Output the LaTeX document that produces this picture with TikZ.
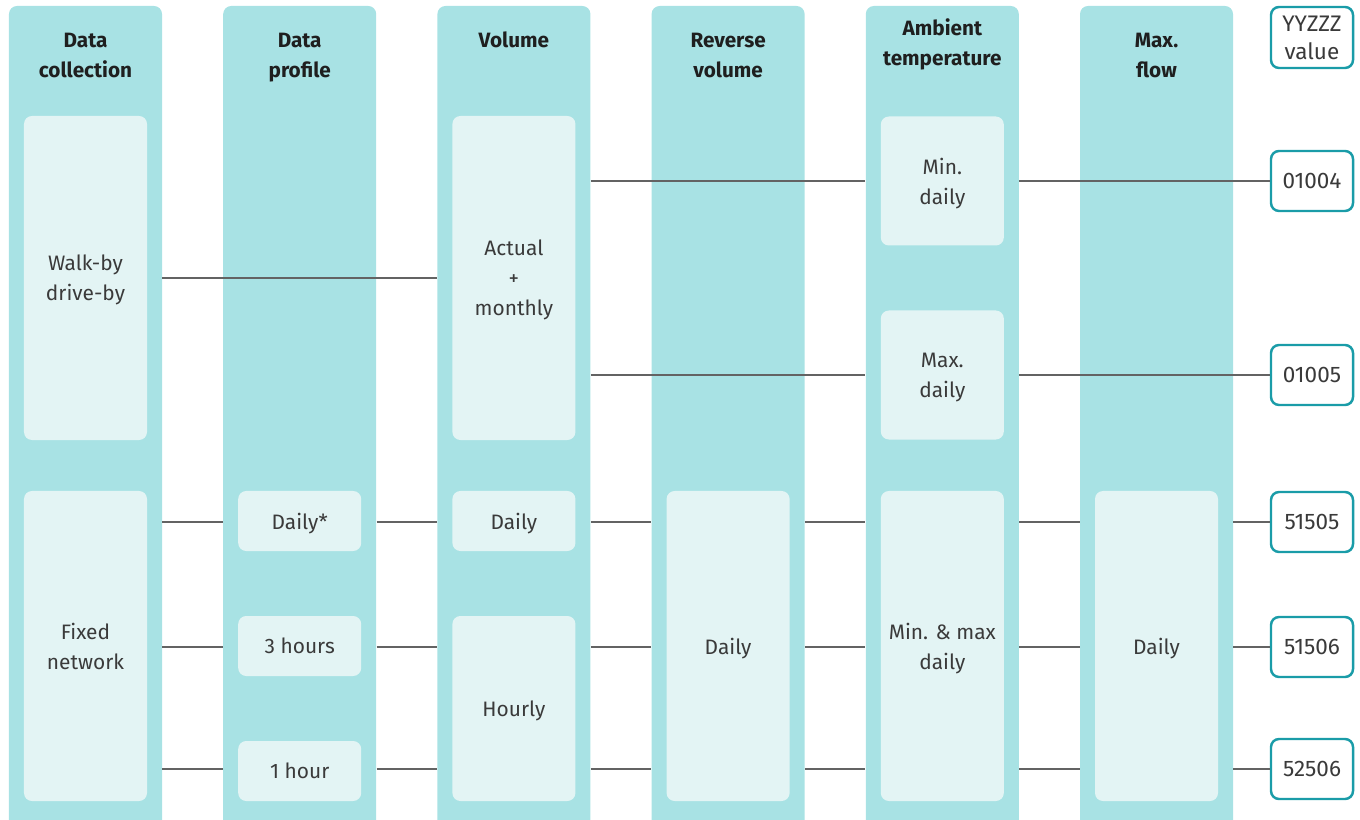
\documentclass[tikz,border=0pt]{standalone}
\usepackage{fontspec}
\setmainfont{Fira Sans}

\definecolor{colfill}{HTML}{A8E2E4}
\definecolor{cellfill}{HTML}{E3F4F4}
\definecolor{codeline}{HTML}{1A9CA8}
\definecolor{linkgray}{HTML}{636363}
\definecolor{txt}{HTML}{3A3A3A}

\tikzset{
  column/.style={fill=colfill, rounded corners=1.6mm, minimum width=3.06cm, minimum height=16.88cm, inner sep=0},
  cell/.style={fill=cellfill, rounded corners=1.6mm, minimum width=2.46cm, inner sep=0, text depth=0pt, align=center, text=txt, font=\fontsize{11.9}{17}\selectfont},
  head/.style={align=center, text depth=0pt, text=black!88, font=\fontsize{11.8}{17}\selectfont\bfseries},
  code/.style={draw=codeline, line width=1.4pt, fill=white, rounded corners=1.6mm, minimum width=1.64cm, minimum height=1.2cm, inner sep=0, text depth=0pt, align=center, text=txt, font=\fontsize{12.8}{16}\selectfont},
  link/.style={draw=linkgray, line width=1.15pt}
}

\begin{document}
\begin{tikzpicture}[x=0.2mm, y=-0.2mm]
\useasboundingbox (0,0) rectangle (1360,820);
\clip (0,0) rectangle (1360,820);

% columns
\foreach \i in {1,...,6}
  \node[column] (col\i) at ({85.5+214.2*(\i-1)},428) {};

\node[head] at (85.5,55) {Data\\collection};
\node[head] at (299.7,55) {Data\\profile};
\node[head] at (513.9,40) {Volume};
\node[head] at (728.1,55) {Reverse\\volume};
\node[head] at (942.3,42) {Ambient\\temperature};
\node[head] at (1156.5,55) {Max.\\flow};

% cells
\node[cell, minimum height=6.48cm] (walk) at (85.5,278) {Walk-by\\drive-by};
\node[cell, minimum height=6.2cm] (fixed) at (85.5,646) {Fixed\\network};

\node[cell, minimum height=1.2cm] (pday) at (299.7,521) {Daily*};
\node[cell, minimum height=1.2cm] (pthree) at (299.7,646) {3 hours};
\node[cell, minimum height=1.2cm] (pone) at (299.7,771) {1 hour};

\node[cell, minimum height=6.48cm] (actual) at (513.9,278) {Actual\\+\\monthly};
\node[cell, minimum height=1.2cm] (vday) at (513.9,521) {Daily};
\node[cell, minimum height=3.7cm] (vhour) at (513.9,708.5) {Hourly};

\node[cell, minimum height=6.2cm] (rday) at (728.1,646) {Daily};

\node[cell, minimum height=2.58cm] (minday) at (942.3,181) {Min.\\daily};
\node[cell, minimum height=2.58cm] (maxday) at (942.3,375) {Max.\\daily};
\node[cell, minimum height=6.2cm] (minmax) at (942.3,646) {Min. \& max\\daily};

\node[cell, minimum height=6.2cm] (fday) at (1156.5,646) {Daily};

% codes
\node[code, minimum height=1.22cm] (yy) at (1312,37.5) {YYZZZ\\value};
\node[code] (c01004) at (1312,181) {01004};
\node[code] (c01005) at (1312,375) {01005};
\node[code] (c51505) at (1312,522) {51505};
\node[code] (c51506) at (1312,647) {51506};
\node[code] (c52506) at (1312,769) {52506};

% links
\draw[link] (col1.east |- walk) -- (col3.west |- walk);
\draw[link] (col3.east |- minday) -- (col5.west |- minday);
\draw[link] (col5.east |- minday) -- (c01004.west);
\draw[link] (col3.east |- maxday) -- (col5.west |- maxday);
\draw[link] (col5.east |- maxday) -- (c01005.west);

\foreach \r in {c51505,c51506,c52506} {
  \foreach \a/\b in {1/2,2/3,3/4,4/5,5/6}
    \draw[link] (col\a.east |- \r) -- (col\b.west |- \r);
  \draw[link] (col6.east |- \r) -- (\r.west);
}
\end{tikzpicture}
\end{document}
